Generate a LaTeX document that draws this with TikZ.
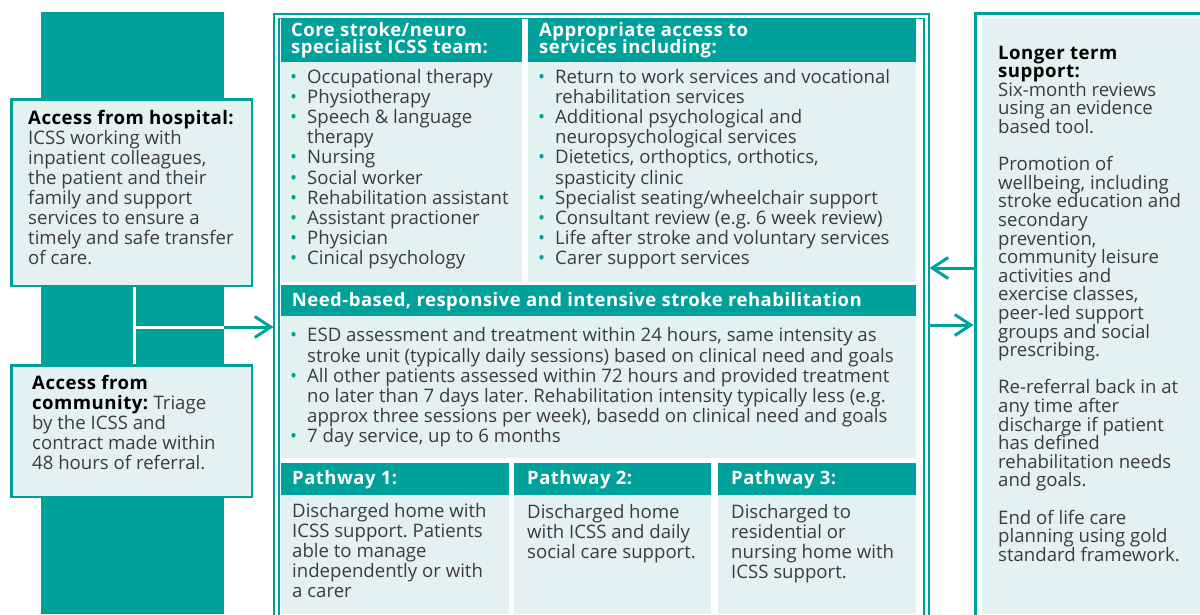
\documentclass[tikz,border=0pt]{standalone}
\usepackage{fontspec}
\setmainfont{Open Sans}[BoldFeatures={LetterSpace=2.6}]
\usetikzlibrary{positioning,arrows.meta,calc}
\definecolor{icssteal}{HTML}{00A19A}
\definecolor{icsslight}{HTML}{E3F1F0}
\definecolor{icsstext}{HTML}{3C3C3C}
\newcommand{\panel}[5]{%
  \fill[icssteal] (#1,#3) rectangle (#2,#4);
  \fill[icsslight] (#1,#4) rectangle (#2,#5);
}
\newcommand{\itm}{\makebox[17pt][l]{\textcolor{icssteal}{\textbullet}}}
\newcommand{\cnt}{\hspace*{17pt}}
\newcommand{\bodyfont}{\fontsize{18.6}{20.1}\selectfont}
\newcommand{\headfont}{\fontsize{18.5}{16.5}\selectfont\bfseries}
\newcommand{\sidefont}{\fontsize{18.6}{18.6}\selectfont}
\newcommand{\hd}[1]{\textcolor{black}{\textbf{#1}}}
\newcommand{\block}[1]{\parbox[t]{760pt}{\raggedright\frenchspacing\lineskiplimit=-20pt #1}}

\begin{document}
\begin{tikzpicture}[x=1pt,y=-1pt,
  txt/.style={anchor=north west,inner sep=0pt,text height=14pt,font=\bodyfont,text=icsstext},
  hdtxt/.style={txt,font=\headfont,text=white},
  frame/.style={draw=icssteal,anchor=north west,inner sep=0pt,minimum width=#1,minimum height=640},
  sidebox/.style={draw=icssteal,line width=2.5pt,fill=icsslight,anchor=north west,inner sep=0pt,minimum width=240.5,minimum height=#1},
  wline/.style={white,line width=3pt},
  tline/.style={icssteal,line width=3pt},
  barb/.style={-{Straight Barb[length=16pt,width=21pt]}},
]
  \useasboundingbox (0,0) rectangle (1200,614);
  \clip (0,0) rectangle (1200,614);

  % left column
  \node[fill=icssteal,anchor=north west,inner sep=0pt,minimum width=183,minimum height=602] (band) at (41,12) {};
  \node[sidebox=186.5] (hosp) at (10.25,98.25) {};
  \node[sidebox=131.5] (comm) at (10.25,364.25) {};
  \node[txt] (hosptxt) at (28,110) {\block{\hd{Access from hospital:}\\ICSS working with\\inpatient colleagues,\\the patient and their\\family and support\\services to ensure a\\timely and safe transfer\\of care.}};
  \node[txt] (commtxt) at (32,375) {\block{\hd{Access from}\\\hd{community:} Triage\\by the ICSS and\\contract made within\\48 hours of referral.}};

  % frames
  \node[frame=650,line width=1.8pt,double=white,double distance=2.6pt,outer sep=3pt] (centre) at (273.5,13.3) {};
  \node[frame=300,line width=3pt,outer sep=1.5pt] (rbox) at (973.5,11.5) {};
  \fill[icsslight] (982,18) rectangle (1200,614);

  % panels
  \panel{280.5}{522}{19}{62}{282}
  \panel{527.5}{916}{19}{62}{282}
  \panel{280.5}{916}{284.5}{316}{458}
  \foreach \xa/\xb in {280.5/508.5,514/711,717.5/916} {\panel{\xa}{\xb}{463}{495}{614}}

  \node[hdtxt] (corehd) at (291,22.7) {\block{Core stroke/neuro\\specialist ICSS team:}};
  \node[hdtxt] (apphd) at (539,22.7) {\block{Appropriate access to\\services including:}};
  \node[hdtxt] (needhd) at (291.7,292) {Need-based, responsive and intensive stroke rehabilitation};
  \foreach \i/\x in {1/292,2/527,3/731} {\node[hdtxt] (path\i) at (\x,470.5) {Pathway \i:};}

  \node[txt] (corelist) at (290,69.3) {\block{\itm Occupational therapy\\\itm Physiotherapy\\\itm Speech \& language\\\cnt therapy\\\itm Nursing\\\itm Social worker\\\itm Rehabilitation assistant\\\itm Assistant practioner\\\itm Physician\\\itm Cinical psychology}};
  \node[txt] (applist) at (538,69.3) {\block{\itm Return to work services and vocational\\\cnt rehabilitation services\\\itm Additional psychological and\\\cnt neuropsychological services\\\itm Dietetics, orthoptics, orthotics,\\\cnt spasticity clinic\\\itm Specialist seating/wheelchair support\\\itm Consultant review (e.g. 6 week review)\\\itm Life after stroke and voluntary services\\\itm Carer support services}};
  \node[txt] (needlist) at (290,327.7) {\block{\itm ESD assessment and treatment within 24 hours, same intensity as\\\cnt stroke unit (typically daily sessions) based on clinical need and goals\\\itm All other patients assessed within 72 hours and provided treatment\\\cnt no later than 7 days later. Rehabilitation intensity typically less (e.g.\\\cnt approx three sessions per week), basedd on clinical need and goals\\\itm 7 day service, up to 6 months}};
  \node[txt] (path1txt) at (292,503) {\block{Discharged home with\\ICSS support. Patients\\able to manage\\independently or with\\a carer}};
  \node[txt] (path2txt) at (527,504) {\block{Discharged home\\with ICSS and daily\\social care support.}};
  \node[txt] (path3txt) at (731,504) {\block{Discharged to\\residential or\\nursing home with\\ICSS support.}};

  \node[txt,font=\sidefont] (longtxt) at (998,44.8) {\block{\hd{Longer term}\\\hd{support:}\\Six-month reviews\\using an evidence\\based tool.\\[18.6pt]Promotion of\\wellbeing, including\\stroke education and\\secondary\\prevention,\\community leisure\\activities and\\exercise classes,\\peer-led support\\groups and social\\prescribing.\\[18.6pt]Re-referral back in at\\any time after\\discharge if patient\\has defined\\rehabilitation needs\\and goals.\\[18.6pt]End of life care\\planning using gold\\standard framework.}};

  % connectors
  \coordinate (join) at (134,327);
  \coordinate (back) at (950,268);
  \coordinate (fwd) at (950,325);
  \draw[wline] (hosp.south -| join) -- (comm.north -| join);
  \draw[wline] (join) -- (join -| band.east);
  \draw[tline,barb] (join -| band.east) -- (join -| centre.west);
  \draw[tline,barb] (back -| rbox.west) -- (back -| centre.east);
  \draw[tline,barb] (fwd -| centre.east) -- (fwd -| rbox.west);
\end{tikzpicture}
\end{document}
